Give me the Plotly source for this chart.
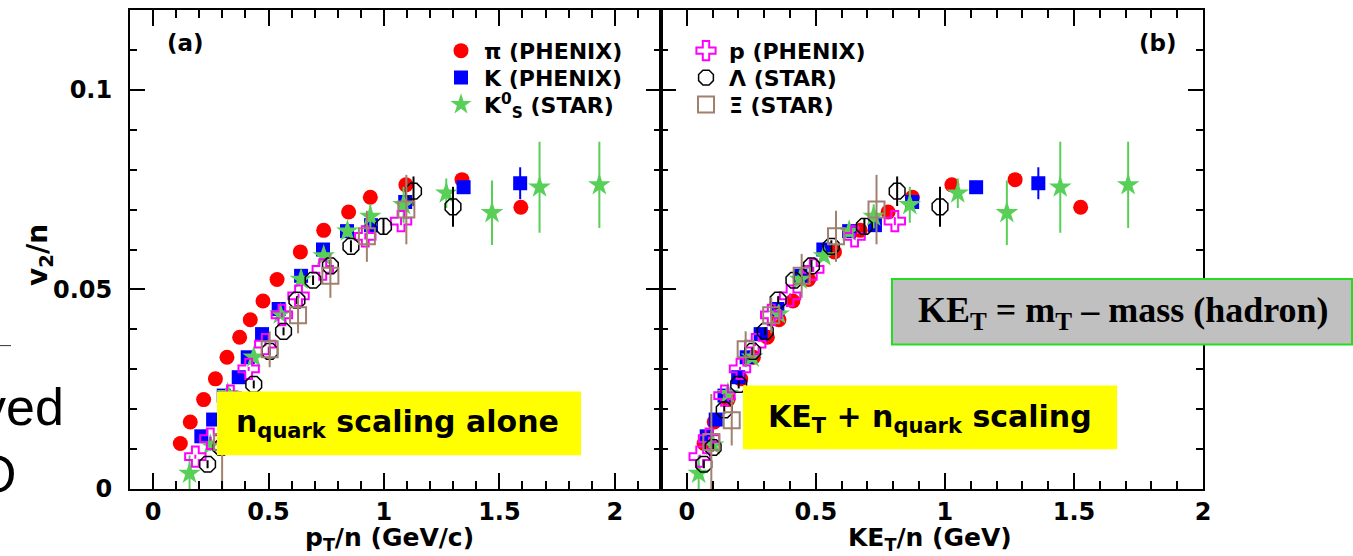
import plotly.graph_objects as go

# ---------------- data ----------------
# pi (PHENIX)
pi_pt = [0.118, 0.161, 0.219, 0.270, 0.320, 0.375, 0.421, 0.476, 0.537, 0.638, 0.739, 0.847, 0.941, 1.095, 1.338, 1.593]
pi_ke = [0.067, 0.106, 0.160, 0.209, 0.258, 0.312, 0.357, 0.411, 0.472, 0.572, 0.672, 0.780, 0.874, 1.027, 1.272, 1.526]
pi_v2 = [0.0114, 0.0168, 0.0224, 0.0276, 0.0330, 0.0380, 0.0424, 0.0471, 0.0525, 0.0594, 0.0648, 0.0694, 0.0731, 0.0762, 0.0775, 0.0706]
pi_err = [0.0003, 0.0003, 0.0003, 0.0003, 0.0003, 0.0003, 0.0003, 0.0004, 0.0004, 0.0005, 0.0005, 0.0006, 0.0006, 0.0008, 0.0010, 0.0012]

# K (PHENIX)
k_pt = [0.209, 0.260, 0.306, 0.371, 0.410, 0.472, 0.544, 0.641, 0.736, 0.840, 0.944, 1.092, 1.345, 1.590]
k_ke = [0.077, 0.112, 0.146, 0.199, 0.232, 0.286, 0.351, 0.440, 0.529, 0.629, 0.729, 0.873, 1.121, 1.362]
k_v2 = [0.0132, 0.0174, 0.0234, 0.0280, 0.0330, 0.0388, 0.0451, 0.0534, 0.0600, 0.0646, 0.0661, 0.0719, 0.0756, 0.0766]
k_err = [0.0004, 0.0004, 0.0004, 0.0004, 0.0004, 0.0005, 0.0005, 0.0005, 0.0006, 0.0006, 0.0007, 0.0008, 0.0010, 0.0040]

# K0s (STAR)
ks_pt = [0.158, 0.248, 0.323, 0.436, 0.551, 0.641, 0.739, 0.842, 0.941, 1.085, 1.270, 1.468, 1.674, 1.933]
ks_ke = [0.046, 0.102, 0.159, 0.253, 0.356, 0.439, 0.531, 0.629, 0.724, 0.864, 1.050, 1.240, 1.447, 1.710]
ks_v2 = [0.0039, 0.0110, 0.0239, 0.0330, 0.0438, 0.0525, 0.0584, 0.0646, 0.0683, 0.0712, 0.0741, 0.0692, 0.0756, 0.0762]
ks_err = [0.0045, 0.0015, 0.0010, 0.0010, 0.0010, 0.0010, 0.0012, 0.0015, 0.0030, 0.0045, 0.0037, 0.0081, 0.0114, 0.0108]

# p (PHENIX)
p_pt = [0.183, 0.248, 0.335, 0.414, 0.486, 0.558, 0.630, 0.735, 0.919, 1.074]
p_ke = [0.050, 0.086, 0.146, 0.206, 0.265, 0.327, 0.400, 0.490, 0.650, 0.806]
p_v2 = [0.0081, 0.0126, 0.0234, 0.0301, 0.0363, 0.0436, 0.0484, 0.0550, 0.0633, 0.0671]
p_err = [0.0005, 0.0005, 0.0005, 0.0005, 0.0005, 0.0006, 0.0006, 0.0007, 0.0008, 0.0010]

# Lambda (STAR)
lam_pt = [0.236, 0.295, 0.360, 0.436, 0.505, 0.565, 0.623, 0.693, 0.768, 0.857, 0.998, 1.128, 1.299]
lam_ke = [0.066, 0.102, 0.145, 0.201, 0.255, 0.304, 0.354, 0.415, 0.483, 0.560, 0.688, 0.815, 0.981]
lam_v2 = [0.0062, 0.0104, 0.0198, 0.0262, 0.0345, 0.0395, 0.0473, 0.0523, 0.0559, 0.0608, 0.0658, 0.0746, 0.0707]
lam_err = [0.0010, 0.0010, 0.0010, 0.0010, 0.0010, 0.0010, 0.0010, 0.0012, 0.0015, 0.0015, 0.0020, 0.0037, 0.0050]

# Xi (STAR)
xi_pt = [0.299, 0.427, 0.505, 0.628, 0.768, 0.926, 1.097]
xi_ke = [0.095, 0.174, 0.228, 0.327, 0.445, 0.578, 0.735]
xi_v2 = [0.0118, 0.0172, 0.0350, 0.0435, 0.0534, 0.0633, 0.0700]
xi_err = [0.0120, 0.0063, 0.0045, 0.0045, 0.0055, 0.0064, 0.0087]

x_tickvals = [0, 0.5, 1, 1.5, 2]
x_ticktext = ["0", "0.5", "1", "1.5", "2"]
y_tickvals = [0, 0.05, 0.1]
y_ticktext = ["0", "0.05", "0.1"]

# ---------------- styling ----------------
SANS = "DejaVu Sans, Verdana, sans-serif"
ARIAL = "Liberation Sans, Arial, sans-serif"
SERIF = "Liberation Serif, Times New Roman, serif"
RED, BLUE, GREEN, MAG, BLK, BRN = "#ff0000", "#0000ff", "#58d058", "#ff00ff", "#000000", "#a0806e"

W, H = 1353, 556
ML, MR, MT, MB = 130, 150, 8, 67
PW, PH = W - ML - MR, H - MT - MB
split = (661 - ML) / PW


def px(xp):
    return (xp - ML) / PW


def py(yp):
    return (H - MB - yp) / PH


# legend slot: (legend id, left pixel, row centre pixel)
series = [
    dict(name="π (PHENIX)", pt=pi_pt, ke=pi_ke, v2=pi_v2, err=pi_err, color=RED,
         symbol="circle", size=15, lw=0, legend=("legend", 438, 49)),
    dict(name="K (PHENIX)", pt=k_pt, ke=k_ke, v2=k_v2, err=k_err, color=BLUE,
         symbol="square", size=14, lw=0, legend=("legend2", 438, 76)),
    dict(name="K<sup>0</sup><sub>S</sub> (STAR)", pt=ks_pt, ke=ks_ke, v2=ks_v2, err=ks_err, color=GREEN,
         symbol="star", size=17, lw=0, legend=("legend3", 438, 103)),
    dict(name="p (PHENIX)", pt=p_pt, ke=p_ke, v2=p_v2, err=p_err, color=MAG,
         symbol="cross-open", size=17, lw=2, legend=("legend4", 683, 49)),
    dict(name="Λ (STAR)", pt=lam_pt, ke=lam_ke, v2=lam_v2, err=lam_err, color=BLK,
         symbol="octagon-open", size=17, lw=1.5, legend=("legend5", 683, 76)),
    dict(name="Ξ (STAR)", pt=xi_pt, ke=xi_ke, v2=xi_v2, err=xi_err, color=BRN,
         symbol="square-open", size=16, lw=2, legend=("legend6", 683, 103)),
]

fig = go.Figure()
for s in series:
    for xkey, xa, ya, show in (("pt", "x", "y", True), ("ke", "x2", "y2", False)):
        fig.add_trace(go.Scatter(
            x=s[xkey], y=s["v2"], mode="markers", name=s["name"],
            xaxis=xa, yaxis=ya, showlegend=show, legend=s["legend"][0],
            marker=dict(symbol=s["symbol"], size=s["size"], color=s["color"],
                        line=dict(width=s["lw"], color=s["color"])),
            error_y=dict(type="data", array=s["err"], color=s["color"], thickness=2, width=0),
        ))

tickfont = dict(family=SANS, size=24, color="black", weight="bold")
xcommon = dict(showgrid=False, zeroline=False, showline=True, linecolor="black", linewidth=2,
               mirror="ticks", ticks="inside", ticklen=16, tickwidth=1.5, tickcolor="black",
               tickmode="array", tickvals=x_tickvals, ticktext=x_ticktext,
               tickfont=tickfont, ticklabelstandoff=0,
               minor=dict(ticks="inside", ticklen=8, tickwidth=1.5, tickcolor="black",
                          tickmode="linear", tick0=0, dtick=0.1, showgrid=False))
ycommon = dict(showgrid=False, zeroline=False, showline=True, linecolor="black", linewidth=2,
               mirror="ticks", ticks="inside", ticklen=15, tickwidth=1.5, tickcolor="black",
               tickmode="array", tickvals=y_tickvals, ticktext=y_ticktext,
               tickfont=tickfont, ticklabelstandoff=11, range=[0, 0.12],
               minor=dict(ticks="inside", ticklen=7, tickwidth=1.5, tickcolor="black",
                          tickmode="linear", tick0=0, dtick=0.01, showgrid=False))

legfont = dict(family=SANS, size=22, color="black", weight="bold")
layout_legends = {}
for s in series:
    lid, lx, ly = s["legend"]
    layout_legends[lid] = dict(x=px(lx), y=py(ly), xanchor="left", yanchor="middle",
                               bgcolor="rgba(0,0,0,0)", font=legfont, itemclick=False,
                               itemwidth=36, borderwidth=0)

fig.update_layout(
    width=W, height=H, autosize=False,
    margin=dict(l=ML, r=MR, t=MT, b=MB),
    paper_bgcolor="white", plot_bgcolor="white",
    xaxis=dict(domain=[0, split], range=[-0.1, 2.2], anchor="y", **xcommon),
    xaxis2=dict(domain=[split, 1], range=[-0.1, 2.0], anchor="y2", **xcommon),
    yaxis=dict(domain=[0, 1], anchor="x", **ycommon),
    yaxis2=dict(domain=[0, 1], anchor="x2", showticklabels=False, **ycommon),
    **layout_legends,
)

shapes = [
    dict(type="rect", xref="paper", yref="paper", x0=px(217), x1=px(581), y0=py(455), y1=py(391),
         fillcolor="#ffff00", line=dict(width=0), layer="above"),
    dict(type="rect", xref="paper", yref="paper", x0=px(743), x1=px(1117), y0=py(449), y1=py(385),
         fillcolor="#ffff00", line=dict(width=0), layer="above"),
    dict(type="rect", xref="paper", yref="paper", x0=px(892), x1=px(1352), y0=py(344), y1=py(278),
         fillcolor="#c0c0c0", line=dict(width=2, color="#22dd22"), layer="above"),
    dict(type="line", xref="paper", yref="paper", x0=px(0), x1=px(11), y0=py(345), y1=py(345),
         line=dict(width=1, color="#333333")),
]
fig.update_layout(shapes=shapes)

ann = [
    dict(text="(a)", x=px(185), y=py(41), font=dict(family=SANS, size=23, weight="bold")),
    dict(text="(b)", x=px(1158), y=py(41), font=dict(family=SANS, size=23, weight="bold")),
    dict(text="n<sub>quark</sub> scaling alone", x=px(397), y=py(423),
         font=dict(family=SANS, size=30, weight="bold")),
    dict(text="KE<sub>T</sub> + n<sub>quark</sub> scaling", x=px(930), y=py(418),
         font=dict(family=SANS, size=30, weight="bold")),
    dict(text="KE<sub>T</sub> = m<sub>T</sub> – mass (hadron)", x=px(1123), y=py(312),
         font=dict(family=SERIF, size=36, weight="bold")),
    dict(text="v<sub>2</sub>/n", x=px(40), y=py(254), textangle=-90,
         font=dict(family=SANS, size=28, weight="bold")),
    dict(text="p<sub>T</sub>/n (GeV/c)", x=px(389), y=py(539),
         font=dict(family=SANS, size=25, weight="bold")),
    dict(text="KE<sub>T</sub>/n (GeV)", x=px(930), y=py(539),
         font=dict(family=SANS, size=25, weight="bold")),
    dict(text="ved", x=px(66), y=py(407), xanchor="right",
         font=dict(family=ARIAL, size=52)),
    dict(text="O", x=px(18), y=py(474), xanchor="right",
         font=dict(family=ARIAL, size=52)),
]
for a in ann:
    a.setdefault("xanchor", "center")
    a.update(xref="paper", yref="paper", yanchor="middle", showarrow=False)
    a["font"].setdefault("color", "black")
fig.update_layout(annotations=ann)

fig.write_html("out.html")
